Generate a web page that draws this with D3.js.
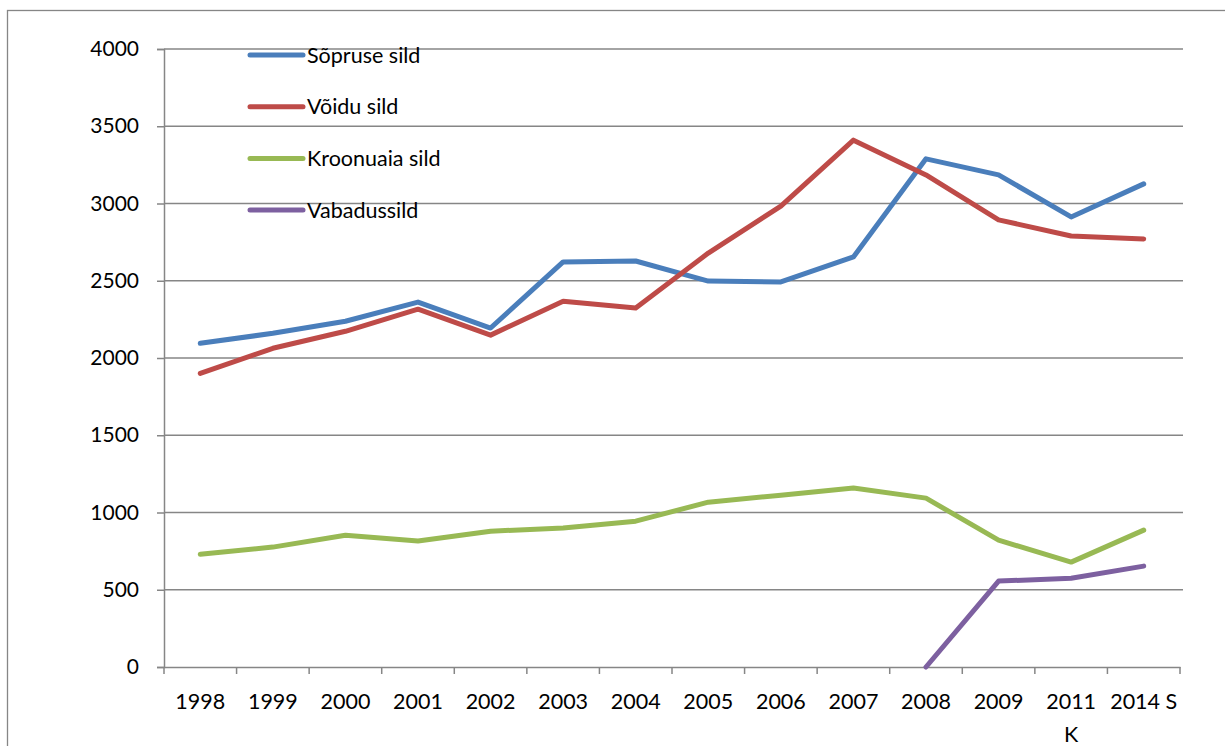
<!DOCTYPE html>
<html>
<head>
<meta charset="utf-8">
<script src="https://cdn.jsdelivr.net/npm/d3@7"></script>
<style>
  html, body { margin: 0; padding: 0; background: #fff; }
  svg { display: block; }
  text { font-family: Lato, "Open Sans", sans-serif; fill: #000; }
</style>
</head>
<body>
<svg id="chart" width="1225" height="746"></svg>
<script>
// Aastad (kategooriad); "\n" tähistab reavahetust sildis
const years = ["1998", "1999", "2000", "2001", "2002", "2003", "2004",
               "2005", "2006", "2007", "2008", "2009", "2011\nK", "2014 S"];

const sopruse   = [2095, 2160, 2238, 2362, 2194, 2622, 2628, 2498, 2492, 2654, 3289, 3185, 2913, 3127];
const voidu     = [1900, 2063, 2173, 2316, 2148, 2368, 2323, 2679, 2983, 3410, 3185, 2894, 2790, 2771];
const kroonuaia = [730, 776, 853, 815, 879, 899, 944, 1067, 1112, 1158, 1093, 821, 679, 886];
const vabaduse  = [null, null, null, null, null, null, null, null, null, null, 0, 556, 575, 653];

const seriesNames  = ["Sõpruse sild", "Võidu sild", "Kroonuaia sild", "Vabadussild"];
const seriesColors = ["#4A7EBB", "#BE4B48", "#98B954", "#7D60A0"];
const yTicks = [0, 500, 1000, 1500, 2000, 2500, 3000, 3500, 4000];

const svg = d3.select("#chart");
const plot = { left: 164, right: 1180, top: 49, bottom: 667 };
const grid = "#868686";

// outer frame of the chart area
svg.append("rect")
  .attr("x", 7.5).attr("y", 10.5)
  .attr("width", 1240).attr("height", 760)
  .attr("fill", "none").attr("stroke", grid).attr("stroke-width", 1.3);

const x = d3.scaleBand().domain(years).range([plot.left, plot.right]);
const y = d3.scaleLinear().domain([0, 4000]).range([plot.bottom, plot.top]);

// horizontal gridlines
svg.append("g").selectAll("line")
  .data(yTicks.filter(d => d > 0))
  .join("line")
  .attr("x1", plot.left).attr("x2", plot.right + 3)
  .attr("y1", d => y(d)).attr("y2", d => y(d))
  .attr("stroke", grid).attr("stroke-width", 1.5);

// y axis
const yAxis = svg.append("g")
  .attr("transform", `translate(${plot.left},0)`)
  .call(d3.axisLeft(y).tickValues(yTicks).tickSize(7).tickPadding(18).tickFormat(d3.format("d")));
yAxis.select(".domain").attr("stroke", grid).attr("stroke-width", 1.5);
yAxis.selectAll(".tick line").attr("stroke", grid).attr("stroke-width", 1.5);
yAxis.selectAll(".tick text")
  .style("font-size", "21px").style("font-family", "Lato, 'Open Sans', sans-serif")
  .attr("fill", "#000");

// x axis
const xAxis = svg.append("g")
  .attr("transform", `translate(0,${plot.bottom})`)
  .call(d3.axisBottom(x).tickSize(0).tickFormat(""));
xAxis.select(".domain").attr("stroke", grid).attr("stroke-width", 1.5);

// tick marks between categories
svg.append("g").selectAll("line")
  .data(d3.range(years.length + 1))
  .join("line")
  .attr("x1", i => plot.left + i * x.step()).attr("x2", i => plot.left + i * x.step())
  .attr("y1", plot.bottom).attr("y2", plot.bottom + 7)
  .attr("stroke", grid).attr("stroke-width", 1.5);

// category labels
const labels = svg.append("g").selectAll("text")
  .data(years)
  .join("text")
  .attr("x", d => x(d) + x.bandwidth() / 2)
  .attr("y", plot.bottom + 42)
  .attr("text-anchor", "middle")
  .style("font-size", "21.5px");
labels.each(function(d) {
  const parts = d.split("\n");
  d3.select(this).selectAll("tspan")
    .data(parts)
    .join("tspan")
    .attr("x", x(d) + x.bandwidth() / 2)
    .attr("dy", (p, i) => i === 0 ? 0 : 33)
    .text(p => p);
});

// data lines
const allSeries = [sopruse, voidu, kroonuaia, vabaduse];
const line = d3.line()
  .defined(d => d.v !== null)
  .x(d => x(d.k) + x.bandwidth() / 2)
  .y(d => y(d.v));

allSeries.forEach((vals, i) => {
  svg.append("path")
    .datum(vals.map((v, j) => ({ k: years[j], v })))
    .attr("d", line)
    .attr("fill", "none")
    .attr("stroke", seriesColors[i])
    .attr("stroke-width", 5)
    .attr("stroke-linejoin", "round")
    .attr("stroke-linecap", "round");
});

// legend
const legend = svg.append("g").selectAll("g")
  .data(seriesNames)
  .join("g")
  .attr("transform", (d, i) => `translate(250,${55 + i * 51.7})`);
legend.append("line")
  .attr("x1", 0).attr("x2", 53)
  .attr("stroke", (d, i) => seriesColors[i])
  .attr("stroke-width", 5)
  .attr("stroke-linecap", "round");
legend.append("text")
  .attr("x", 57).attr("dy", "0.36em")
  .style("font-size", "21.5px")
  .text(d => d);
</script>
</body>
</html>
